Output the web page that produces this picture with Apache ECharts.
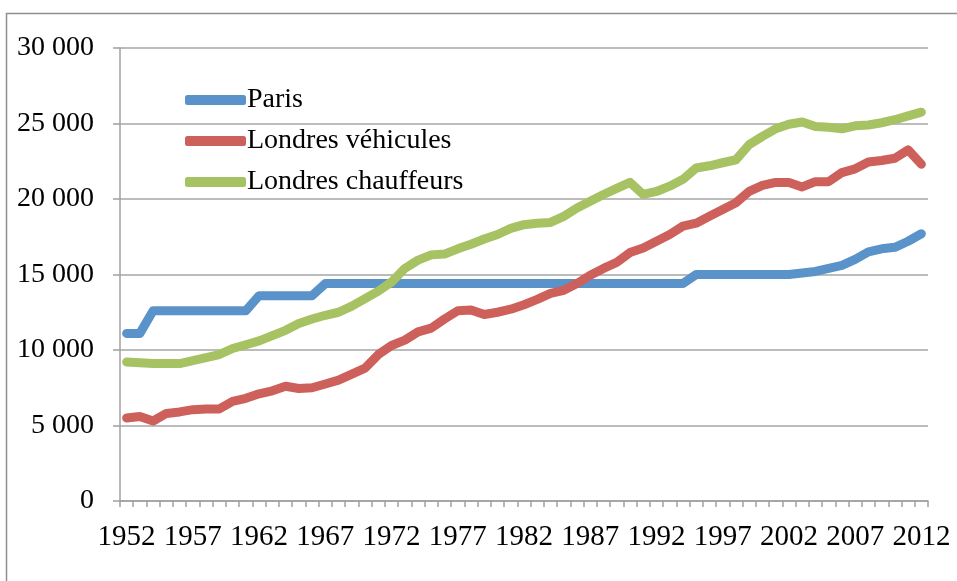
<!DOCTYPE html>
<html>
<head>
<meta charset="utf-8">
<script src="https://cdn.jsdelivr.net/npm/echarts@6/dist/echarts.min.js"></script>
<style>
html,body{margin:0;padding:0;background:#fff;}
#chart{width:957px;height:581px;}
</style>
</head>
<body>
<div id="chart"></div>
<script>
var years = ['1952','1953','1954','1955','1956','1957','1958','1959','1960','1961',
  '1962','1963','1964','1965','1966','1967','1968','1969','1970','1971',
  '1972','1973','1974','1975','1976','1977','1978','1979','1980','1981',
  '1982','1983','1984','1985','1986','1987','1988','1989','1990','1991',
  '1992','1993','1994','1995','1996','1997','1998','1999','2000','2001',
  '2002','2003','2004','2005','2006','2007','2008','2009','2010','2011',
  '2012'];

var paris = [11100,11100,12600,12600,12600,12600,12600,12600,12600,12600,
  13600,13600,13600,13600,13600,14400,14400,14400,14400,14400,
  14400,14400,14400,14400,14400,14400,14400,14400,14400,14400,
  14400,14400,14400,14400,14400,14400,14400,14400,14400,14400,
  14400,14400,14400,15000,15000,15000,15000,15000,15000,15000,
  15000,15100,15200,15400,15600,16000,16500,16700,16800,17200,
  17700];

var londresVehicules = [5500,5600,5300,5800,5900,6050,6100,6100,6600,6800,
  7100,7300,7600,7450,7500,7750,8000,8400,8800,9700,
  10300,10650,11200,11450,12050,12600,12650,12350,12500,12700,
  13000,13350,13750,13950,14400,14950,15400,15800,16450,16750,
  17200,17650,18200,18400,18850,19300,19750,20500,20900,21100,
  21100,20800,21150,21150,21750,22000,22450,22550,22700,23250,
  22300];

var londresChauffeurs = [9200,9150,9100,9100,9100,9300,9500,9700,10100,10350,
  10600,10950,11300,11750,12050,12300,12500,12900,13400,13900,
  14500,15400,15950,16300,16350,16700,17000,17350,17650,18050,
  18300,18400,18450,18850,19400,19850,20300,20700,21100,20300,
  20500,20850,21300,22050,22200,22400,22600,23600,24150,24650,
  24950,25100,24800,24750,24650,24850,24900,25050,25250,25500,
  25750];

var seriesNames = ['Paris','Londres véhicules','Londres chauffeurs'];
var colors = ['#5A93C9','#CD605A','#A6C263'];

var FONT = '"Liberation Serif", "DejaVu Serif", serif';
var chart = echarts.init(document.getElementById('chart'), null, {renderer:'canvas'});

function mkSeries(name, data, color){
  return {
    name: name, type: 'line', data: data, showSymbol: false, symbol: 'none',
    smooth: false, animation: false,
    lineStyle: {width: 9, color: color, cap: 'round', join: 'round'},
    itemStyle: {color: color}
  };
}

chart.setOption({
  animation: false,
  color: colors,
  graphic: [{
    type: 'rect', silent: true, z: -1,
    shape: {x: 6.5, y: 13.5, width: 1000, height: 1000},
    style: {fill: 'none', stroke: '#8f8f8f', lineWidth: 1.5}
  }],
  grid: {left: 120, right: 29, top: 48, bottom: 80, containLabel: false},
  legend: {
    orient: 'vertical', left: 180, top: 81,
    icon: 'roundRect', itemWidth: 61, itemHeight: 10, itemGap: 13,
    textStyle: {fontFamily: FONT, fontSize: 28, color: '#000', lineHeight: 28, padding: [0,0,0,-4]},
    data: seriesNames
  },
  xAxis: {
    type: 'category', data: years, boundaryGap: true,
    axisLine: {lineStyle: {color: '#a0a0a0', width: 1.5}},
    axisTick: {show: true, interval: 0, length: 6, lineStyle: {color: '#a0a0a0', width: 1.5}},
    axisLabel: {interval: 4, margin: 22, fontFamily: FONT, fontSize: 29, color: '#000'},
    splitLine: {show: false}
  },
  yAxis: {
    type: 'value', min: 0, max: 30000, interval: 5000,
    axisLine: {show: true, lineStyle: {color: '#a0a0a0', width: 1.5}},
    axisTick: {show: true, length: 7, lineStyle: {color: '#a0a0a0', width: 1.5}},
    axisLabel: {margin: 26, fontFamily: FONT, fontSize: 28, color: '#000',
      formatter: function(v){ return v === 0 ? '0' : (v/1000) + ' 000'; }},
    splitLine: {lineStyle: {color: '#a6a6a6', width: 1.5}}
  },
  series: [
    mkSeries(seriesNames[0], paris, colors[0]),
    mkSeries(seriesNames[1], londresVehicules, colors[1]),
    mkSeries(seriesNames[2], londresChauffeurs, colors[2])
  ]
});
</script>
</body>
</html>
